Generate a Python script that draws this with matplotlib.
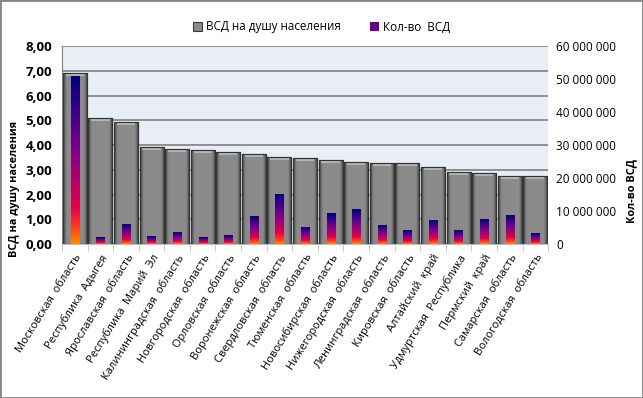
import matplotlib
matplotlib.use('Agg')
import matplotlib.pyplot as plt
import numpy as np
from matplotlib.colors import LinearSegmentedColormap
from matplotlib.patches import Rectangle
from matplotlib.ticker import FuncFormatter, MultipleLocator

plt.rcParams['font.family'] = ['Open Sans', 'DejaVu Sans']

regions = [
    'Московская  область', 'Республика  Адыгея', 'Ярославская  область',
    'Республика  Марий  Эл', 'Калининградская  область', 'Новгородская  область',
    'Орловская  область', 'Воронежская  область', 'Свердловская  область',
    'Тюменская  область', 'Новосибирская  область', 'Нижегородская  область',
    'Ленинградская  область', 'Кировская  область', 'Алтайский  край',
    'Удмуртская  Республика', 'Пермский  край', 'Самарская  область',
    'Вологодская  область',
]
vsd_per_capita = [6.90, 5.10, 4.94, 3.92, 3.84, 3.80, 3.72, 3.62, 3.50, 3.46,
                  3.38, 3.30, 3.26, 3.26, 3.10, 2.91, 2.86, 2.76, 2.76]
vsd_count = [50.9e6, 2.1e6, 6.1e6, 2.4e6, 3.6e6, 2.1e6, 2.7e6, 8.5e6, 15.2e6,
             5.2e6, 9.4e6, 10.6e6, 5.8e6, 4.2e6, 7.3e6, 4.2e6, 7.6e6, 8.8e6,
             3.3e6]

x = np.arange(len(regions))

fig = plt.figure(figsize=(6.43, 3.98), dpi=100)
fig.patches.append(Rectangle((0, 0), 1, 1, transform=fig.transFigure,
                             fill=False, edgecolor='#868686', linewidth=2))
ax = fig.add_axes([0.0964, 0.387, 0.756, 0.497])
ax2 = ax.twinx()

ax.set_facecolor('#e9edf6')
ax2.patch.set_visible(False)

# gray bars with a horizontal bevel shading
gray_cmap = LinearSegmentedColormap.from_list(
    'bevel', ['#2e2e2e', '#5c5c5c', '#8a8a8a', '#8c8c8c', '#8a8a8a', '#555555', '#2a2a2a'])
shade = np.interp(np.linspace(0, 1, 60), [0, 0.06, 0.16, 0.5, 0.84, 0.94, 1],
                  [0.0, 0.2, 0.35, 0.5, 0.65, 0.8, 1.0])[None, :]

bars = ax.bar(x, vsd_per_capita, width=0.94, color='#8a8a8a',
              edgecolor='#3a3a3a', linewidth=0.8, zorder=2,
              label='ВСД на душу населения')
for b in bars:
    x0, w, h = b.get_x(), b.get_width(), b.get_height()
    im = ax.imshow(shade, cmap=gray_cmap, aspect='auto',
                   extent=(x0, x0 + w, 0, h), zorder=2.1, vmin=0, vmax=1)
    im.set_clip_path(b)
    # lighter bevel at the top
    ax.fill_between([x0 + w * 0.12, x0 + w * 0.88], h - 0.12, h - 0.02,
                    color='#b4b4b4', zorder=2.2, linewidth=0)
    ax.add_patch(Rectangle((x0, 0), w, h, fill=False, edgecolor='#333333',
                           linewidth=0.8, zorder=2.3))

# colored bars with a vertical gradient
cnt_cmap = LinearSegmentedColormap.from_list(
    'cnt', [(0.0, '#ff8a00'), (0.1, '#ff3a20'), (0.22, '#e0004a'),
            (0.55, '#800088'), (1.0, '#000080')])
grad_v = np.linspace(0, 1, 100)[:, None]
cbars = ax2.bar(x, vsd_count, width=0.32, color='#6a0088', zorder=3,
                label='Кол-во  ВСД')
for b in cbars:
    x0, w, h = b.get_x(), b.get_width(), b.get_height()
    im = ax2.imshow(grad_v, cmap=cnt_cmap, aspect='auto', origin='lower',
                    extent=(x0, x0 + w, 0, h), zorder=3.1)
    im.set_clip_path(b)

ax.set_xlim(-0.5, len(regions) - 0.5)
ax.set_ylim(0, 8)
ax2.set_ylim(0, 60e6)
ax.yaxis.set_major_locator(MultipleLocator(1))
ax2.yaxis.set_major_locator(MultipleLocator(10e6))
ax.yaxis.set_major_formatter(FuncFormatter(lambda v, p: f'{v:.2f}'.replace('.', ',')))
ax2.yaxis.set_major_formatter(FuncFormatter(lambda v, p: f'{v:,.0f}'.replace(',', ' ')))

ax.grid(axis='y', color='#7f7f7f', linewidth=1.2, zorder=1)
ax.set_axisbelow(True)

ax.set_xticks(x)
ax.set_xticklabels(regions, rotation=58, ha='right', va='top',
                   rotation_mode='anchor', fontsize=8)
ax.tick_params(axis='x', length=0, pad=6)
ax.set_xticks(np.arange(-0.5, len(regions), 1), minor=True)
ax.tick_params(axis='x', which='minor', length=5, color='#bfbfbf')
ax.tick_params(axis='y', length=0, labelsize=9.5, pad=7)
for t in ax.get_yticklabels():
    t.set_fontweight('bold')
ax2.tick_params(axis='y', length=0, labelsize=8.5, pad=6)

for side in ['top', 'right']:
    ax.spines[side].set_visible(False)
    ax2.spines[side].set_visible(False)
ax2.spines['left'].set_visible(False)
ax2.spines['bottom'].set_visible(False)
ax.spines['left'].set_color('#808080')
ax.spines['bottom'].set_color('#bfbfbf')

ax.set_ylabel('ВСД на душу населения', fontsize=7.8, fontweight='bold')
ax.yaxis.set_label_coords(-0.086, 0.28)
ax2.set_ylabel('Кол-во ВСД', fontsize=7.8, fontweight='bold')
ax2.yaxis.set_label_coords(1.16, 0.27)

h1, l1 = ax.get_legend_handles_labels()
h2, l2 = ax2.get_legend_handles_labels()
fig.legend(h1 + h2, l1 + l2, loc='upper center', bbox_to_anchor=(0.5, 0.975),
           ncol=2, frameon=False, fontsize=8.4, handlelength=0.8,
           handleheight=0.8, handletextpad=0.3, columnspacing=2.5)

fig.savefig('out.png', dpi=100)
